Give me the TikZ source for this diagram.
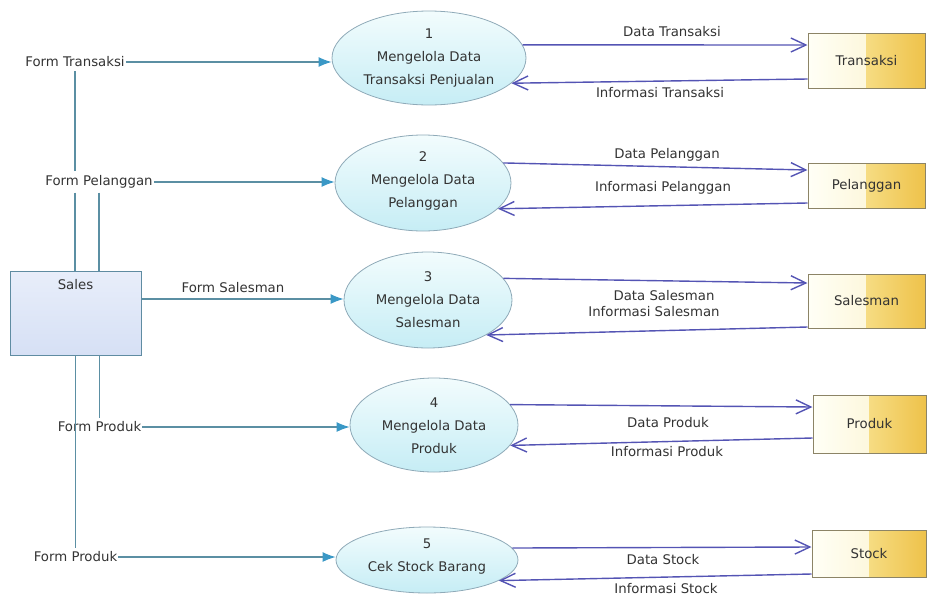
\documentclass[tikz,border=0pt]{standalone}
\usepackage{fontspec}
\setmainfont{DejaVu Sans}
\usetikzlibrary{shapes.geometric,arrows.meta,calc}

\definecolor{flowteal}{HTML}{5B8FA3}
\definecolor{tipblue}{HTML}{3A98C6}
\definecolor{flowviolet}{HTML}{5454B4}
\definecolor{procedge}{HTML}{8FAAB8}
\definecolor{proctop}{HTML}{F2FCFD}
\definecolor{procbot}{HTML}{C6EDF5}
\definecolor{storeedge}{HTML}{8C8466}
\definecolor{storeA}{HTML}{FFFFF6}
\definecolor{storeB}{HTML}{FBF0C4}
\definecolor{storeC}{HTML}{F6DC82}
\definecolor{storeD}{HTML}{EEC24A}
\definecolor{exttop}{HTML}{E8EEFA}
\definecolor{extbot}{HTML}{D6E0F5}
\definecolor{extedge}{HTML}{5F8CA2}
\definecolor{inktext}{HTML}{333333}

\begin{document}
\begin{tikzpicture}[x=1pt,y=-1pt,
  every node/.style={font=\fontsize{13.3}{23}\selectfont, text=inktext},
  process/.style={ellipse, draw=procedge, line width=0.8pt,
    top color=proctop, bottom color=procbot, inner sep=0pt},
  store/.style={rectangle, draw=storeedge, line width=1pt, inner sep=0pt,
    path picture={
      \shade[left color=storeA, right color=storeB]
        (path picture bounding box.north west) rectangle (path picture bounding box.south);
      \shade[left color=storeC, right color=storeD]
        (path picture bounding box.north) rectangle (path picture bounding box.south east);
    }},
  entity/.style={rectangle, draw=extedge, line width=1pt, top color=exttop,
    bottom color=extbot, inner sep=0pt},
  flowlabel/.style={inner xsep=1pt, inner ysep=4pt},
  formflow/.style={draw=flowteal, line width=1.1pt},
  formarrow/.style={formflow, -{Latex[length=13pt,width=10pt,color=tipblue]}},
  dataflow/.style={draw=flowviolet, line width=1.4pt,
    -{Straight Barb[length=15pt,width=14pt]}},
]
\useasboundingbox (0,0) rectangle (927,598);

% processes
\node[process, minimum width=194pt, minimum height=94pt] (p1) at (429,58) {};
\node[process, minimum width=176pt, minimum height=96pt] (p2) at (423,183) {};
\node[process, minimum width=168pt, minimum height=96pt] (p3) at (428,300) {};
\node[process, minimum width=168pt, minimum height=94pt] (p4) at (434,425) {};
\node[process, minimum width=182pt, minimum height=66pt] (p5) at (427,560) {};

\node[align=center] (t1) at (429,58) {1\\Mengelola Data\\Transaksi Penjualan};
\node[align=center] (t2) at (423,181) {2\\Mengelola Data\\Pelanggan};
\node[align=center] (t3) at (428,300) {3\\Mengelola Data\\Salesman};
\node[align=center] (t4) at (434,426) {4\\Mengelola Data\\Produk};
\node[align=center] (t5) at (427,557) {5\\Cek Stock Barang};

% data stores
\node[store, minimum width=117pt, minimum height=55pt] (ds1) at (866.5,60.5) {Transaksi};
\node[store, minimum width=117pt, minimum height=45pt] (ds2) at (866.5,185.5) {Pelanggan};
\node[store, minimum width=117pt, minimum height=54pt] (ds3) at (866.5,301) {Salesman};
\node[store, minimum width=113pt, minimum height=58pt] (ds4) at (869.5,424) {Produk};
\node[store, minimum width=114pt, minimum height=47pt] (ds5) at (869,553.5) {Stock};

% external entity
\node[entity, minimum width=131pt, minimum height=84pt] (sales) at (75.5,313) {};
\node (salesT) at (75.5,285) {Sales};

% form labels
\node[flowlabel] (ft) at (75,62) {Form Transaksi};
\node[flowlabel] (fp) at (99,182) {Form Pelanggan};
\node[flowlabel] (fs) at (233,288) {Form Salesman};
\node[flowlabel] (fd1) at (99.5,427) {Form Produk};
\node[flowlabel] (fd2) at (75.5,557) {Form Produk};

% flows from Sales
\draw[formflow] (ft.south) -- (ft.south |- fp.north);
\draw[formflow] (ft.south |- fp.south) -- (ft.south |- sales.north);
\draw[formflow] (fp.south) -- (fp.south |- sales.north);
\draw[formflow] (fd1.north) -- (fd1.north |- sales.south);
\draw[formflow] (fd2.north) -- (fd2.north |- sales.south);

\draw[formarrow] (ft.east) -- (ft.east -| p1.west);
\draw[formarrow] (fp.east) -- (fp.east -| p2.west);
\draw[formarrow] ([yshift=14pt]sales.east) -- ([yshift=14pt]sales.east -| p3.west);
\draw[formarrow] (fd1.east) -- (fd1.east -| p4.west);
\draw[formarrow] (fd2.east) -- (fd2.east -| p5.west);

% flows between processes and stores
\draw[dataflow] (p1.8) -- ([yshift=15.5pt]ds1.west);
\draw[dataflow] ([yshift=-18.5pt]ds1.west) -- (p1.-17);
\draw[dataflow] (p2.14) -- ([yshift=15.5pt]ds2.west);
\draw[dataflow] ([yshift=-17.5pt]ds2.west) -- (p2.-19);
\draw[dataflow] (p3.16) -- ([yshift=18pt]ds3.west);
\draw[dataflow] ([yshift=-26pt]ds3.west) -- (p3.-31);
\draw[dataflow] (p4.15) -- ([yshift=17pt]ds4.west);
\draw[dataflow] ([yshift=-14pt]ds4.west) -- (p4.-15);
\draw[dataflow] (p5.8) -- ([yshift=6.5pt]ds5.west);
\draw[dataflow] ([yshift=-20.5pt]ds5.west) -- (p5.-16);

% flow labels
\node (l1a) at (672,32) {Data Transaksi};
\node (l1b) at (660,93) {Informasi Transaksi};
\node (l2a) at (667,155) {Data Pelanggan};
\node (l2b) at (663,188) {Informasi Pelanggan};
\node (l3a) at (664,296) {Data Salesman};
\node (l3b) at (654,312) {Informasi Salesman};
\node (l4a) at (668,423) {Data Produk};
\node (l4b) at (667,452) {Informasi Produk};
\node (l5a) at (663,560) {Data Stock};
\node (l5b) at (666,589) {Informasi Stock};
\end{tikzpicture}
\end{document}
